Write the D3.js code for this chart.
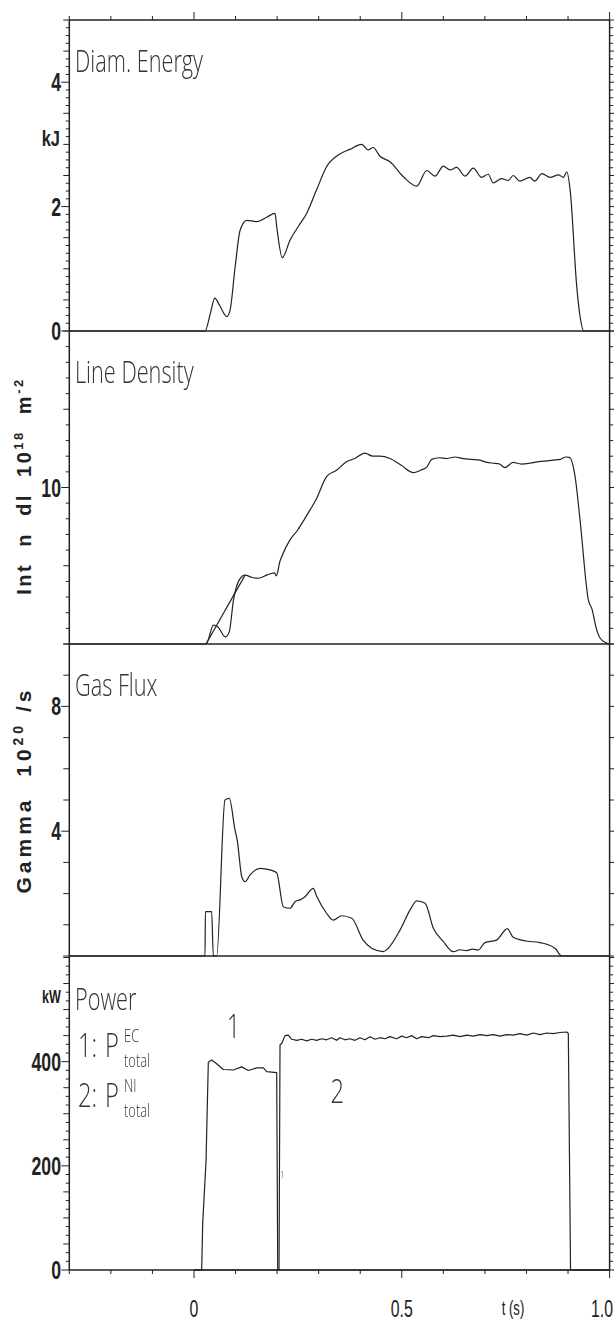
<!DOCTYPE html>
<html>
<head>
<meta charset="utf-8">
<script src="https://cdn.jsdelivr.net/npm/d3@7"></script>
<style>
  body { margin: 0; background: #fff; }
  text { fill: #222; }
</style>
</head>
<body>
<div id="my_dataviz"></div>
<script>
// ---- data (t in s, value in panel units) ----
var timeTicks = [0, 0.5, 1.0];
var timeTickLabels = ["0", "0.5", "1.0"];

var energyTicks = [0, 2, 4];
var densityTicks = [10];
var gasTicks = [4, 8];
var powerTicks = [0, 200, 400];

// Diam. Energy, kJ
var energy = [[-0.3, 0], [0.0265, 0], [0.040, 0.3], [0.050, 0.53], [0.061, 0.42], [0.079, 0.23], [0.087, 0.34],
  [0.099, 1.03], [0.111, 1.62], [0.127, 1.78], [0.151, 1.76], [0.175, 1.83], [0.195, 1.89], [0.199, 1.68],
  [0.2125, 1.18], [0.231, 1.46], [0.251, 1.68], [0.271, 1.89], [0.295, 2.27], [0.319, 2.64], [0.347, 2.83],
  [0.375, 2.92], [0.4035, 3.0], [0.419, 2.91], [0.431, 2.95], [0.4475, 2.81], [0.4716, 2.72], [0.5037, 2.48],
  [0.536, 2.33], [0.56, 2.58], [0.58, 2.49], [0.60, 2.65], [0.616, 2.59], [0.632, 2.63], [0.652, 2.49],
  [0.672, 2.62], [0.692, 2.47], [0.708, 2.52], [0.72, 2.38], [0.740, 2.45], [0.756, 2.42], [0.768, 2.5],
  [0.784, 2.41], [0.808, 2.47], [0.82, 2.41], [0.837, 2.53], [0.857, 2.47], [0.877, 2.51], [0.889, 2.47],
  [0.897, 2.56], [0.905, 2.27], [0.921, 0.71], [0.929, 0.23], [0.938, 0], [1.0, 0]];

// Line density, 10^18 m^-2
var density = [[-0.3, 0], [0.029, 0], [0.047, 1.2], [0.057, 1.1], [0.076, 0.45], [0.085, 0.79], [0.095, 2.8],
  [0.109, 4.1], [0.123, 4.4], [0.14, 4.25], [0.155, 4.2], [0.175, 4.4], [0.194, 4.55], [0.198, 4.35],
  [0.207, 5.3], [0.211, 5.58], [0.231, 6.65], [0.25, 7.3], [0.267, 8.03], [0.28, 8.6], [0.295, 9.3],
  [0.319, 10.7], [0.343, 11.1], [0.367, 11.65], [0.387, 11.85], [0.411, 12.2], [0.43, 12.0], [0.4475, 12.0],
  [0.4716, 11.85], [0.4997, 11.4], [0.528, 10.95], [0.545, 11.1], [0.56, 11.3], [0.572, 11.8], [0.59, 11.9],
  [0.608, 11.85], [0.628, 11.95], [0.648, 11.85], [0.668, 11.8], [0.688, 11.75], [0.705, 11.6], [0.72, 11.55],
  [0.735, 11.5], [0.748, 11.27], [0.768, 11.6], [0.788, 11.5], [0.808, 11.55], [0.83, 11.65], [0.849, 11.7],
  [0.865, 11.75], [0.881, 11.8], [0.895, 11.95], [0.903, 11.93], [0.917, 10.7], [0.929, 7.9], [0.949, 2.8],
  [0.958, 2.2], [0.967, 1.1], [0.977, 0.38], [0.991, 0.08], [1.0, 0]];
var densityFit = [[0.029, 0], [0.123, 4.4]];

// Gas flux, 10^20 /s
var gas = [[-0.3, 0], [0.0265, 0], [0.0275, 1.42], [0.0425, 1.42], [0.0465, 0], [0.0545, 0], [0.0746, 5.0],
  [0.085, 5.05], [0.0987, 4.04], [0.104, 3.72], [0.115, 2.54], [0.123, 2.38], [0.135, 2.6], [0.159, 2.81],
  [0.183, 2.76], [0.199, 2.67], [0.215, 1.58], [0.231, 1.53], [0.243, 1.74], [0.255, 1.8], [0.267, 1.9],
  [0.287, 2.17], [0.295, 1.92], [0.319, 1.37], [0.335, 1.15], [0.355, 1.29], [0.3795, 1.21], [0.407, 0.51],
  [0.4275, 0.25], [0.4555, 0.14], [0.4675, 0.25], [0.4956, 0.83], [0.5197, 1.47], [0.536, 1.77], [0.556, 1.69],
  [0.576, 0.89], [0.60, 0.46], [0.624, 0.14], [0.64, 0.2], [0.656, 0.17], [0.67, 0.22], [0.684, 0.19],
  [0.70, 0.43], [0.728, 0.51], [0.754, 0.88], [0.768, 0.6], [0.80, 0.48], [0.8325, 0.43], [0.8686, 0.25],
  [0.885, 0], [1.0, 0]];

// Power, kW  (1: EC, 2: NI)
var powerEC = [[0, 0], [0.0185, 0], [0.021, 90], [0.029, 209], [0.0345, 399], [0.0425, 403], [0.0545, 396],
  [0.0706, 385], [0.0946, 384], [0.1147, 390], [0.1307, 383], [0.151, 388], [0.167, 388], [0.175, 381],
  [0.199, 379], [0.2015, 0], [1.0, 0]];
var powerNI = [[0, 0], [0.2046, 0], [0.207, 432], [0.211, 435], [0.219, 450], [0.227, 451], [0.235, 443],
  [0.247, 441], [0.259, 443], [0.2711, 440], [0.2831, 443], [0.2951, 441], [0.3071, 444], [0.3192, 442],
  [0.3312, 446], [0.3432, 441], [0.3513, 446], [0.3633, 442], [0.3753, 444], [0.3874, 441], [0.3994, 446],
  [0.4114, 442], [0.4235, 448], [0.4355, 443], [0.4475, 446], [0.4596, 444], [0.4716, 448], [0.4876, 444],
  [0.4997, 449], [0.5117, 446], [0.5237, 450], [0.5358, 444], [0.5478, 448], [0.5639, 446], [0.5759, 450],
  [0.5919, 448], [0.608, 449], [0.624, 451], [0.64, 448], [0.6561, 451], [0.6721, 449], [0.6882, 452],
  [0.7042, 450], [0.7202, 452], [0.7363, 449], [0.7523, 452], [0.7684, 451], [0.7844, 454], [0.8004, 451],
  [0.8165, 455], [0.8325, 452], [0.8485, 455], [0.8646, 454], [0.8806, 456], [0.8967, 457], [0.9007, 454],
  [0.906, 0], [1.0, 0]];

// ---- layout ----
var width = 614, height = 1324;
var x = d3.scaleLinear().domain([-0.3, 1.0]).range([69.3, 609.6]);
var xL = x.range()[0], xR = x.range()[1];
var ink = "#222";

var svg = d3.select("#my_dataviz")
  .append("svg")
  .attr("width", width)
  .attr("height", height)
  .style("font-family", "'Liberation Sans', Arial, sans-serif");

// grey-only filter so the thin lettering does not get coloured fringes
svg.append("defs").append("filter").attr("id", "gray")
  .append("feColorMatrix").attr("type", "saturate").attr("values", 0);

var panels = [
  { y: d3.scaleLinear().domain([0, 5]).range([331, 20]), minor: 0.125, major: 0.5,
    ticks: energyTicks, series: [energy], title: "Diam. Energy", curve: d3.curveMonotoneX },
  { y: d3.scaleLinear().domain([0, 20]).range([644, 331]), minor: 1, major: 5,
    ticks: densityTicks, series: [density, densityFit], title: "Line Density", curve: d3.curveMonotoneX },
  { y: d3.scaleLinear().domain([0, 10]).range([956, 644]), minor: 1, major: 1,
    ticks: gasTicks, series: [gas], title: "Gas Flux", curve: d3.curveMonotoneX },
  { y: d3.scaleLinear().domain([0, 600]).range([1270, 957.5]), minor: 50 / 3, major: 50,
    ticks: powerTicks, series: [powerEC, powerNI], title: "Power", curve: d3.curveLinear }
];

function near(a, b) { return Math.abs(a - b) < 1e-6; }
function isMult(d, m) { return near(d / m, Math.round(d / m)); }

// condensed text helper
function ctext(g, px, py, str, sx, anchor) {
  return g.append("text")
    .attr("transform", "translate(" + px + "," + py + ") scale(" + sx + ",1)")
    .attr("text-anchor", anchor)
    .text(str);
}

// thin, narrow lettering used for titles and the legend
function light(sel, size) {
  return sel.style("font-family", "'Open Sans', Roboto, sans-serif")
    .style("font-weight", 300)
    .style("font-size", size)
    .style("fill", "#333")
    .attr("filter", "url(#gray)");
}

panels.forEach(function (p) {
  var g = svg.append("g");
  var y = p.y;
  var top = y.domain()[1];
  var tickVals = d3.range(0, top + 1e-6, p.minor);

  function len(d) {
    if (p.ticks.some(function (t) { return near(t, d); })) return 8;
    if (isMult(d, p.major)) return 6;
    return 3.5;
  }

  // left ticks (outward)
  g.selectAll(".lt").data(tickVals).enter().append("line")
    .attr("x1", function (d) { return xL - len(d); })
    .attr("x2", xL)
    .attr("y1", function (d) { return y(d); })
    .attr("y2", function (d) { return y(d); })
    .attr("stroke", ink).attr("stroke-width", 1);
  // right ticks (outward)
  g.selectAll(".rt").data(tickVals).enter().append("line")
    .attr("x1", xR)
    .attr("x2", function (d) { return xR + len(d); })
    .attr("y1", function (d) { return y(d); })
    .attr("y2", function (d) { return y(d); })
    .attr("stroke", ink).attr("stroke-width", 1);

  // tick labels
  p.ticks.forEach(function (t) {
    ctext(g, 61, y(t) + 9, String(t), 0.68, "end")
      .style("font-size", "26px").style("font-weight", "bold");
  });

  // zero line / panel separator
  g.append("line")
    .attr("x1", xL).attr("x2", xR)
    .attr("y1", y(0)).attr("y2", y(0))
    .attr("stroke", ink).attr("stroke-width", 1.5);

  // data
  var line = d3.line()
    .curve(p.curve)
    .x(function (d) { return x(d[0]); })
    .y(function (d) { return y(d[1]); });
  p.series.forEach(function (s) {
    g.append("path")
      .attr("d", line(s))
      .attr("fill", "none")
      .attr("stroke", ink)
      .attr("stroke-width", 1.2)
      .attr("stroke-linejoin", "round");
  });

  // panel title
  light(ctext(g, 75, y(top) + 52, p.title, 0.7, "start"), "31px");
});

// frame: left, right, top
svg.append("line").attr("x1", xL).attr("x2", xL).attr("y1", 20).attr("y2", 1270)
  .attr("stroke", ink).attr("stroke-width", 1.5);
svg.append("line").attr("x1", xR).attr("x2", xR).attr("y1", 20).attr("y2", 1270)
  .attr("stroke", ink).attr("stroke-width", 1.5);
svg.append("line").attr("x1", xL).attr("x2", xR).attr("y1", 20).attr("y2", 20)
  .attr("stroke", ink).attr("stroke-width", 1.5);

// time ticks, bottom (down) and top (up)
var tTicks = d3.range(-3, 11).map(function (i) { return i / 10; });
function tLen(d) { return timeTicks.some(function (t) { return near(t, d); }) ? 8 : 4; }
svg.selectAll(".bt").data(tTicks).enter().append("line")
  .attr("x1", function (d) { return x(d); }).attr("x2", function (d) { return x(d); })
  .attr("y1", 1270).attr("y2", function (d) { return 1270 + tLen(d); })
  .attr("stroke", ink).attr("stroke-width", 1);
svg.selectAll(".tt").data(tTicks).enter().append("line")
  .attr("x1", function (d) { return x(d); }).attr("x2", function (d) { return x(d); })
  .attr("y1", 20).attr("y2", function (d) { return 20 - tLen(d); })
  .attr("stroke", ink).attr("stroke-width", 1);

// time labels
timeTicks.forEach(function (t, i) {
  var last = i === timeTicks.length - 1;
  ctext(svg, last ? 613 : x(t), 1317, timeTickLabels[i], 0.66, last ? "end" : "middle")
    .style("font-size", "24px");
});
ctext(svg, 513, 1315, "t (s)", 0.62, "middle").style("font-size", "21px");

// unit labels
ctext(svg, 60, panels[0].y(3.1) + 8, "kJ", 0.75, "end")
  .style("font-size", "22px").style("font-weight", "bold");
ctext(svg, 61, 1003, "kW", 0.7, "end")
  .style("font-size", "18px").style("font-weight", "bold");

// rotated axis titles
var t2 = svg.append("text")
  .attr("transform", "translate(31,486) rotate(-90)")
  .attr("text-anchor", "middle")
  .attr("xml:space", "preserve")
  .style("white-space", "pre")
  .style("font-size", "20px").style("font-weight", "bold").style("letter-spacing", "2.5px");
t2.append("tspan").text("Int  n  dl  10");
t2.append("tspan").attr("dy", -8).style("font-size", "13px").text("18");
t2.append("tspan").attr("dy", 8).text("  m");
t2.append("tspan").attr("dy", -8).style("font-size", "13px").text("-2");

var t3 = svg.append("text")
  .attr("transform", "translate(31,790) rotate(-90)")
  .attr("text-anchor", "middle")
  .attr("xml:space", "preserve")
  .style("white-space", "pre")
  .style("font-size", "21px").style("font-weight", "bold").style("letter-spacing", "4px");
t3.append("tspan").text("Gamma  10");
t3.append("tspan").attr("dy", -8).style("font-size", "14px").text("20");
t3.append("tspan").attr("dy", 8).text(" /s");

// power legend: P with stacked super/subscript
function legendRow(py, num, sup) {
  light(ctext(svg, 78, py, num, 0.72, "start"), "33px");
  light(ctext(svg, 105, py, "P", 0.72, "start"), "33px");
  light(ctext(svg, 124, py - 15, sup, 0.72, "start"), "18px");
  light(ctext(svg, 124, py + 10, "total", 0.72, "start"), "18px");
}
legendRow(1057, "1:", "EC");
legendRow(1107, "2:", "NI");

// curve labels
light(ctext(svg, x(0.095), 1038, "1", 0.72, "middle"), "33px");
light(ctext(svg, x(0.345), 1103, "2", 0.72, "middle"), "33px");
light(ctext(svg, x(0.213), 1178, "1", 0.8, "middle"), "9px");
</script>
</body>
</html>
